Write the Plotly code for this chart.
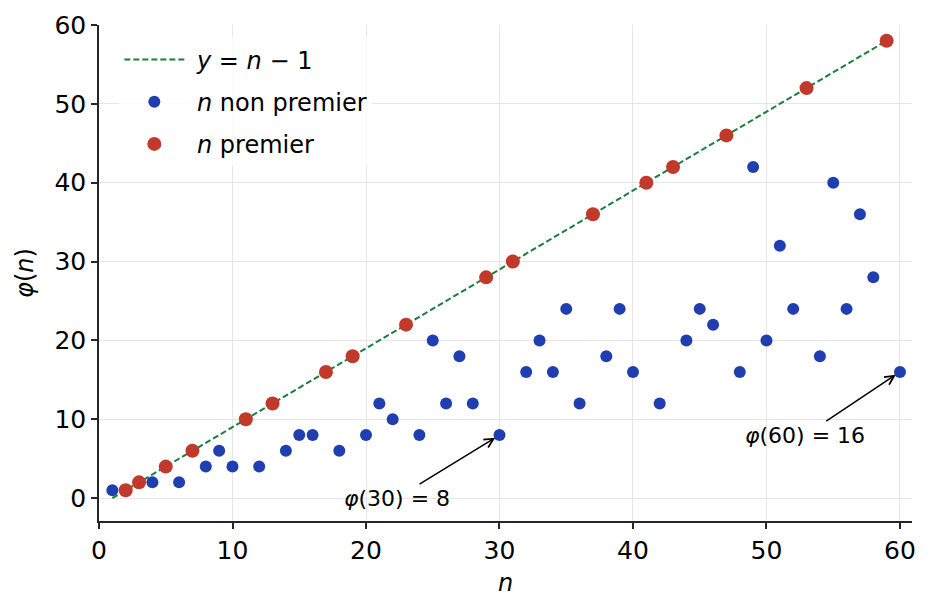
import plotly.graph_objects as go

# valeurs
n_non_premier = [1, 4, 6, 8, 9, 10, 12, 14, 15, 16, 18, 20, 21, 22, 24, 25, 26, 27, 28, 30,
                 32, 33, 34, 35, 36, 38, 39, 40, 42, 44, 45, 46, 48, 49, 50, 51, 52, 54, 55,
                 56, 57, 58, 60]
phi_non_premier = [1, 2, 2, 4, 6, 4, 4, 6, 8, 8, 6, 8, 12, 10, 8, 20, 12, 18, 12, 8,
                   16, 20, 16, 24, 12, 18, 24, 16, 12, 20, 24, 22, 16, 42, 20, 32, 24, 18, 40,
                   24, 36, 28, 16]
n_premier = [2, 3, 5, 7, 11, 13, 17, 19, 23, 29, 31, 37, 41, 43, 47, 53, 59]
phi_premier = [1, 2, 4, 6, 10, 12, 16, 18, 22, 28, 30, 36, 40, 42, 46, 52, 58]
ligne_x = [1, 59]
ligne_y = [0, 58]

BLUE = '#1f3fb0'
RED = '#c0392b'
GREEN = '#1a7f3c'
FONT = 'DejaVu Sans'

fig = go.Figure()
fig.add_trace(go.Scatter(x=ligne_x, y=ligne_y, mode='lines',
                         line=dict(color=GREEN, width=2, dash='6px,3px'),
                         name='&nbsp;<i>y</i> = <i>n</i> − 1', legendgroup='a'))
fig.add_trace(go.Scatter(x=n_non_premier, y=phi_non_premier, mode='markers',
                         marker=dict(color=BLUE, size=12),
                         name='&nbsp;<i>n</i> non premier', legendgroup='b'))
fig.add_trace(go.Scatter(x=n_premier, y=phi_premier, mode='markers',
                         marker=dict(color=RED, size=14),
                         name='&nbsp;<i>n</i> premier', legendgroup='c'))

axis = dict(showline=True, linecolor='#262626', linewidth=1.5,
            ticks='outside', ticklen=6, tickwidth=1.5, tickcolor='#262626',
            showgrid=True, gridcolor='#e6e6e6', gridwidth=1, zeroline=False,
            tickfont=dict(size=25, color='black'), mirror=False, automargin=False)

fig.update_xaxes(axis, range=[0, 60.9], tick0=0, dtick=10,
                 title=dict(text='<i>n</i>', font=dict(size=24, color='black'), standoff=10))
fig.update_yaxes(axis, range=[-2.9, 60], tick0=0, dtick=10,
                 title=dict(text='<i>φ</i>(<i>n</i>)', font=dict(size=24, color='black'), standoff=14))

ann_font = dict(family=FONT, size=22, color='black')
fig.add_annotation(x=30, y=8, ax=22.3, ay=0, axref='x', ayref='y',
                   text='<i>φ</i>(30) = 8', showarrow=True, arrowhead=5, arrowsize=1.2,
                   arrowwidth=1.5, arrowcolor='black', standoff=5, font=ann_font)
fig.add_annotation(x=60, y=16, ax=52.9, ay=8, axref='x', ayref='y',
                   text='<i>φ</i>(60) = 16', showarrow=True, arrowhead=5, arrowsize=1.2,
                   arrowwidth=1.5, arrowcolor='black', standoff=5, font=ann_font)

# la page ajoute une marge de 8 px autour du graphique
fig.update_layout(
    width=931, height=614,
    margin=dict(l=91, r=27, t=17, b=101),
    paper_bgcolor='white', plot_bgcolor='white',
    font=dict(family=FONT, size=24, color='black'),
    legend=dict(x=0.025, y=0.975, xanchor='left', yanchor='top',
                bgcolor='rgba(255,255,255,0.8)', font=dict(size=24),
                itemwidth=60, tracegroupgap=8),
)

fig.write_html('out.html')
